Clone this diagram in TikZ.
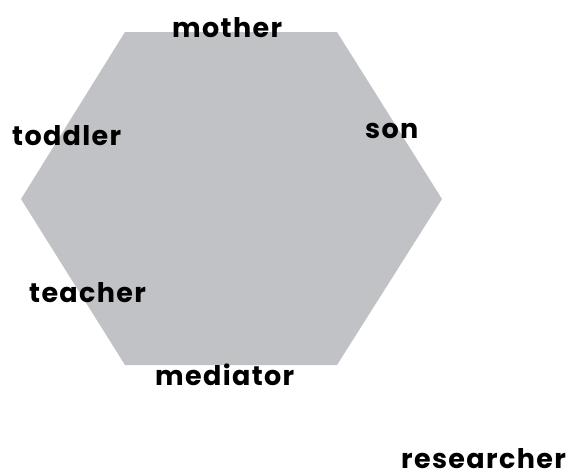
\documentclass[tikz,border=0pt]{standalone}
\usepackage{fontspec}
\setmainfont{Poppins}[LetterSpace=5]
\definecolor{hexgray}{RGB}{193,194,197}
\begin{document}
\begin{tikzpicture}[x=1pt,y=-1pt,
  lbl/.style={anchor=base west,inner sep=0pt,text depth=0pt,font=\fontsize{27}{32}\selectfont\bfseries}]
\useasboundingbox (0,0) rectangle (570,475);
\fill[hexgray] (125,32) coordinate (h1) -- (337,32) coordinate (h2) -- (442,199) coordinate (h3)
  -- (337,365) coordinate (h4) -- (125,365) coordinate (h5) -- (21,199) coordinate (h6) -- cycle;
\node[lbl] (mother) at (172,37) {mother};
\node[lbl] (toddler) at (12,145) {toddler};
\node[lbl] (son) at (365,138) {son};
\node[lbl] (teacher) at (29,302) {teacher};
\node[lbl] (mediator) at (155,385) {mediator};
\node[lbl] (researcher) at (401,468) {researcher};
\end{tikzpicture}
\end{document}
